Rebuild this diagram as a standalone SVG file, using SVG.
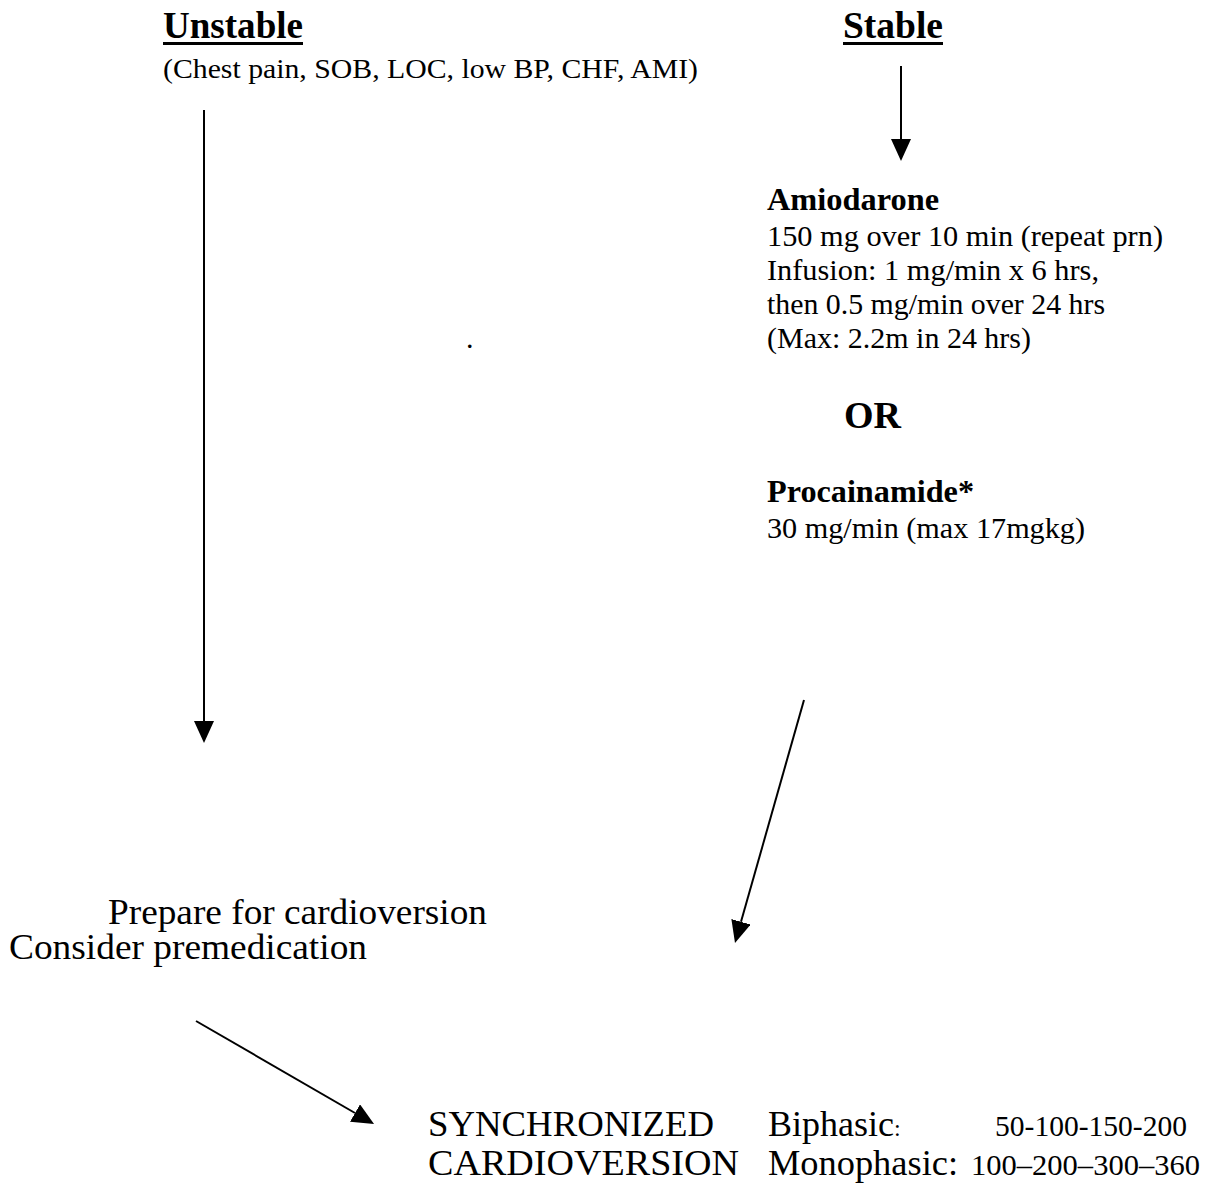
<svg xmlns="http://www.w3.org/2000/svg" width="1219" height="1184" viewBox="0 0 1219 1184">
<style>
.tx text{font-family:'Liberation Serif','Times New Roman',Times,serif;fill:#000}
.h{font-weight:bold;font-size:37px}
.b{font-weight:bold;font-size:32px}
.t{font-size:30px}
.m{font-size:28px}
.n{font-size:29px}
.l{font-size:36px}
.c{stroke:#000;stroke-width:2;fill:none}
</style>
<defs>
<marker id="ah" viewBox="0 0 22 20" refX="0" refY="10" markerWidth="22" markerHeight="20" markerUnits="userSpaceOnUse" orient="auto">
<path d="M0,0 L22,10 L0,20 z" fill="#000"/>
</marker>
</defs>
<rect width="1219" height="1184" fill="#fff"/>
<g class="tx" font-family="'Liberation Serif','Times New Roman',Times,serif">
<g id="unstable">
<text class="h" x="163" y="38" textLength="140" lengthAdjust="spacingAndGlyphs">Unstable</text>
<rect x="163" y="42" width="140" height="3" fill="#000"/>
<text class="m" x="163" y="78" textLength="535" lengthAdjust="spacingAndGlyphs">(Chest pain, SOB, LOC, low BP, CHF, AMI)</text>
</g>
<g id="stable">
<text class="h" x="843" y="38" textLength="100" lengthAdjust="spacingAndGlyphs">Stable</text>
<rect x="843" y="42" width="100" height="3" fill="#000"/>
</g>
<g id="amiodarone">
<text class="b" x="767" y="210" textLength="172" lengthAdjust="spacingAndGlyphs">Amiodarone</text>
<text class="t" x="767" y="246" textLength="396" lengthAdjust="spacingAndGlyphs">150 mg over 10 min (repeat prn)</text>
<text class="t" x="767" y="280" textLength="332" lengthAdjust="spacingAndGlyphs">Infusion: 1 mg/min x 6 hrs,</text>
<text class="t" x="767" y="314" textLength="338" lengthAdjust="spacingAndGlyphs">then 0.5 mg/min over 24 hrs</text>
<text class="t" x="767" y="348" textLength="264" lengthAdjust="spacingAndGlyphs">(Max: 2.2m in 24 hrs)</text>
</g>
<g id="dot">
<text class="t" x="466" y="348">.</text>
</g>
<g id="or">
<text class="h" x="844" y="428" textLength="57" lengthAdjust="spacingAndGlyphs">OR</text>
</g>
<g id="procainamide">
<text class="b" x="767" y="502" textLength="207" lengthAdjust="spacingAndGlyphs">Procainamide*</text>
<text class="t" x="767" y="538" textLength="318" lengthAdjust="spacingAndGlyphs">30 mg/min (max 17mgkg)</text>
</g>
<g id="prepare">
<text class="l" x="108" y="924" textLength="379" lengthAdjust="spacingAndGlyphs">Prepare for cardioversion</text>
<text class="l" x="9" y="959" textLength="358" lengthAdjust="spacingAndGlyphs">Consider premedication</text>
</g>
<g id="cardioversion">
<text class="l" x="428" y="1136" textLength="286" lengthAdjust="spacingAndGlyphs">SYNCHRONIZED</text>
<text class="l" x="428" y="1175" textLength="311" lengthAdjust="spacingAndGlyphs">CARDIOVERSION</text>
<text class="l" x="768" y="1136">Biphasic<tspan font-size="24px">:</tspan></text>
<text class="l" x="768" y="1175" textLength="190" lengthAdjust="spacingAndGlyphs">Monophasic:</text>
<text class="n" x="995" y="1136" textLength="192" lengthAdjust="spacingAndGlyphs">50-100-150-200</text>
<text class="n" x="971" y="1175" textLength="229" lengthAdjust="spacingAndGlyphs">100–200–300–360</text>
</g>
</g>
<g id="connectors">
<line class="c" x1="901" y1="66" x2="901" y2="139" marker-end="url(#ah)"/>
<line class="c" x1="204" y1="110" x2="204" y2="721" marker-end="url(#ah)"/>
<line class="c" x1="804" y1="700" x2="741" y2="921.8" marker-end="url(#ah)"/>
<line class="c" x1="196" y1="1021" x2="355" y2="1113" marker-end="url(#ah)"/>
</g>
</svg>
